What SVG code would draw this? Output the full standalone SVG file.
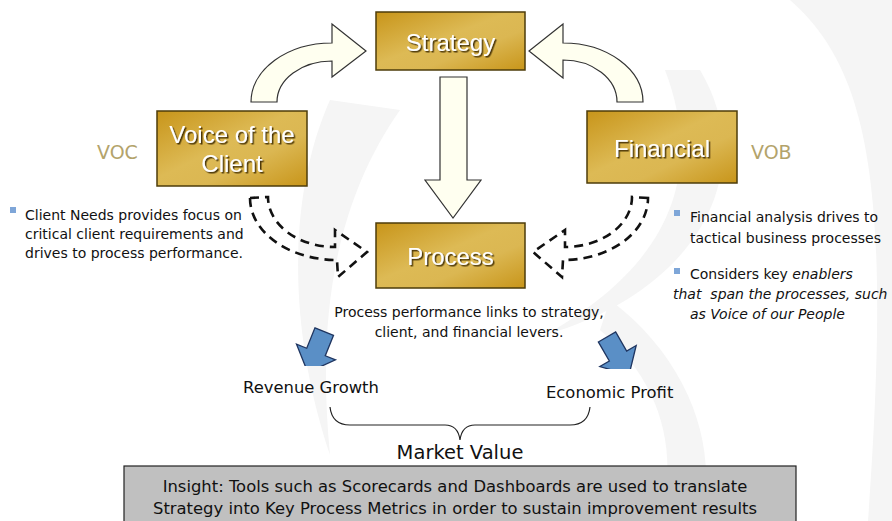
<svg xmlns="http://www.w3.org/2000/svg" width="892" height="521" viewBox="0 0 892 521">
  <defs>
    <linearGradient id="gold" x1="0" y1="0" x2="1" y2="1">
      <stop offset="0" stop-color="#C8951A"/>
      <stop offset="0.45" stop-color="#DDBA55"/>
      <stop offset="0.65" stop-color="#DBB752"/>
      <stop offset="1" stop-color="#C8951A"/>
    </linearGradient>
    <filter id="shadow" x="-10%" y="-20%" width="130%" height="150%">
      <feDropShadow dx="1.5" dy="1.5" stdDeviation="0.6" flood-color="#3A2A00" flood-opacity="0.9"/>
    </filter>
    <clipPath id="clipL"><rect x="280" y="320" width="70" height="46"/></clipPath>
    <clipPath id="clipR"><rect x="585" y="320" width="70" height="49"/></clipPath>
    <polygon id="blueArrow" points="-10,-22 10,-22 10,0 21,0 0,22 -21,0 -10,0"/>
  </defs>
  <style>
    .box { fill: url(#gold); stroke: #4D3D0A; stroke-width: 1.5; }
    .boxlabel { font-family: "Liberation Sans", Arial, sans-serif; font-size: 24px; fill: #FFFFFF; text-anchor: middle; filter: url(#shadow); }
    .cream { fill: #FFFFF0; stroke: #333333; stroke-width: 1.2; stroke-linejoin: miter; }
    .dash { fill: none; stroke: #111111; stroke-width: 2.6; stroke-dasharray: 9 6; }
    .blue { fill: #5A8FC6; stroke: #1F3560; stroke-width: 1.3; stroke-linejoin: miter; }
    .tag { font-family: "DejaVu Sans", Verdana, sans-serif; font-size: 19px; fill: #B3A36B; }
    .body { font-family: "DejaVu Sans", Verdana, sans-serif; font-size: 14px; fill: #111111; }
    .mid { font-family: "DejaVu Sans", Verdana, sans-serif; font-size: 16.4px; fill: #111111; }
    .big { font-family: "DejaVu Sans", Verdana, sans-serif; font-size: 19.5px; fill: #111111; }
    .bullet { fill: #7EA6D8; }
    .wm { fill: #F5F5F5; }
  </style>

  <rect x="0" y="0" width="892" height="521" fill="#FFFFFF"/>

  <!-- faint background watermark -->
  <g id="watermark">
    <path class="wm" d="M 330,100 C 290,190 285,320 330,455 C 318,330 330,210 400,110 Z"/>
    <path class="wm" d="M 700,70 C 760,170 700,290 545,335 C 670,265 705,175 665,70 Z"/>
    <path class="wm" d="M 790,0 C 870,70 892,190 868,521 L 892,521 L 892,0 Z"/>
    <path class="wm" d="M 610,300 C 690,360 720,450 700,521 L 660,521 C 680,450 660,380 600,330 Z"/>
  </g>

  <!-- connectors -->
  <g id="connectors">
    <path class="cream" d="M 251,102 A 81,59 0 0 1 332,43 L 332,24 L 366,51 L 332,77 L 332,61 A 55,41 0 0 0 277,102 Z"/>
    <path class="cream" d="M 643,102 A 80,59 0 0 0 563,43 L 563,24 L 529,51 L 563,78 L 563,60 A 54,42 0 0 1 617,102 Z"/>
    <path class="cream" d="M 440,77 L 467,77 L 467,180 L 481,180 L 453,218 L 425,180 L 440,180 Z"/>
    <path class="dash" d="M 250,198 L 268,197 A 67,50 0 0 0 335,247 L 335,230 L 367,252 L 338,277 L 337,260 A 87,62 0 0 1 250,198 Z"/>
    <path class="dash" d="M 648,198 L 632,197 A 67,50 0 0 1 565,247 L 565,230 L 533,252 L 562,277 L 563,260 A 85,62 0 0 0 648,198 Z"/>
    <g clip-path="url(#clipL)">
      <use href="#blueArrow" class="blue" transform="translate(316,352) rotate(22)"/>
    </g>
    <g clip-path="url(#clipR)">
      <use href="#blueArrow" class="blue" transform="translate(618,356) rotate(-30)"/>
    </g>
    <path d="M 330,407 Q 332,425 350,425 L 445,425 Q 458,425 460,440 Q 462,425 475,425 L 570,425 Q 588,425 590,407" fill="none" stroke="#222222" stroke-width="1.2"/>
  </g>

  <!-- nodes -->
  <g id="strategy">
    <rect class="box" x="376" y="12" width="149" height="58"/>
    <text class="boxlabel" x="450.5" y="51">Strategy</text>
  </g>
  <g id="voice-of-the-client">
    <rect class="box" x="157" y="111" width="150" height="75"/>
    <text class="boxlabel" x="232" y="143">Voice of the</text>
    <text class="boxlabel" x="232" y="172">Client</text>
  </g>
  <g id="financial">
    <rect class="box" x="587" y="111" width="150" height="72"/>
    <text class="boxlabel" x="662" y="157">Financial</text>
  </g>
  <g id="process">
    <rect class="box" x="376" y="223" width="149" height="65"/>
    <text class="boxlabel" x="450.5" y="265">Process</text>
  </g>

  <g id="labels">
    <text class="tag" x="97" y="159">VOC</text>
    <text class="tag" x="751" y="159">VOB</text>

    <rect class="bullet" x="10" y="207" width="6" height="6"/>
    <text class="body" x="25" y="220">Client Needs provides focus on</text>
    <text class="body" x="25" y="239">critical client requirements and</text>
    <text class="body" x="25" y="258">drives to process performance.</text>

    <rect class="bullet" x="674" y="210" width="6" height="6"/>
    <text class="body" x="690" y="222">Financial analysis drives to</text>
    <text class="body" x="690" y="243">tactical business processes</text>
    <rect class="bullet" x="674" y="268" width="6" height="6"/>
    <text class="body" x="690" y="279">Considers key <tspan font-style="italic">enablers</tspan></text>
    <text class="body" x="673" y="299" font-style="italic" xml:space="preserve">that  span the processes, such</text>
    <text class="body" x="690" y="319" font-style="italic">as Voice of our People</text>

    <text class="body" x="469" y="317" text-anchor="middle">Process performance links to strategy,</text>
    <text class="body" x="469" y="337" text-anchor="middle">client, and financial levers.</text>

    <text class="mid" x="243" y="393">Revenue Growth</text>
    <text class="mid" x="546" y="398">Economic Profit</text>
    <text class="big" x="460" y="459" text-anchor="middle">Market Value</text>
  </g>

  <g id="insight">
    <rect x="124" y="466" width="672" height="62" fill="#C0C0C0" stroke="#222222" stroke-width="1.2"/>
    <text class="mid" x="455" y="492" text-anchor="middle">Insight: Tools such as Scorecards and Dashboards are used to translate</text>
    <text class="mid" x="455" y="514" text-anchor="middle">Strategy into Key Process Metrics in order to sustain improvement results</text>
  </g>
</svg>
